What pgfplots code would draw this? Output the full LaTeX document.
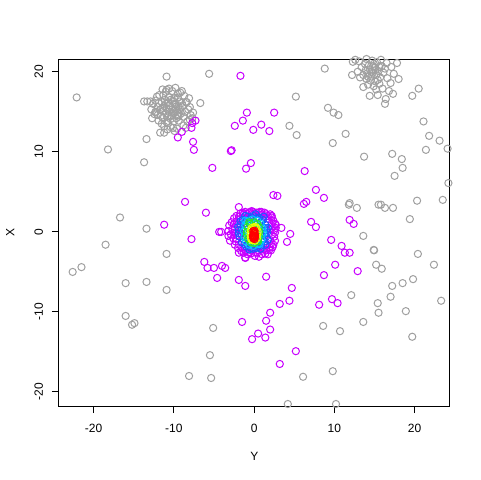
\documentclass[border=0pt]{standalone}
\usepackage{fontspec}
\setmainfont{Liberation Sans}
\usepackage{pgfplots}
\pgfplotsset{compat=1.18}
\definecolor{pgray}{RGB}{160,160,160}
\definecolor{ppurple}{RGB}{200,0,255}
\definecolor{pblue}{RGB}{30,90,255}
\definecolor{pcyan}{RGB}{0,200,255}
\definecolor{pgreen}{RGB}{40,230,40}
\definecolor{pyellow}{RGB}{235,255,0}
\definecolor{pred}{RGB}{255,0,0}
\pgfplotsset{pts/.style={only marks, mark=o, mark size=2.7pt, color=#1, mark options={line width=0.75pt, draw=#1}}}
\begin{document}
\begin{tikzpicture}
\path (0,0) rectangle (360pt,360pt);
\begin{axis}[
  at={(44.25pt,55.5pt)}, anchor=south west,
  scale only axis, width=293.25pt, height=260.25pt,
  xmin=-24.3, xmax=24.4, ymin=-21.75, ymax=21.6,
  xtick={-20,-10,0,10,20}, ytick={-20,-10,0,10,20},
  tick align=outside, xtick pos=left, ytick pos=left,
  major tick length=5.4pt,
  tick style={black, line width=0.75pt},
  axis line style={black, line width=0.75pt},
  ticklabel style={font=\fontsize{9}{10}\selectfont},
  /pgf/number format/assume math mode=true,
  yticklabel style={rotate=90, anchor=south},
  xticklabel shift=4.5pt, yticklabel shift=3pt,
  xlabel={Y}, ylabel={X},
  label style={font=\fontsize{9}{10}\selectfont},
  xlabel style={at={(axis description cs:0.5,-0.144)}, anchor=center},
  ylabel style={at={(axis description cs:-0.125,0.5)}, anchor=center},
]
% scattered gray points
\addplot[pts=pgray] coordinates {
(-22.1,16.8) (-10.9,19.4) (-5.6,19.75) (-6.7,16.1) (-13.7,16.3) (-12.3,15.0)
(-11.2,12.4) (-13.4,11.6) (-18.2,10.3) (-13.7,8.7) (-16.7,1.8) (-13.4,0.4)
(-18.5,-1.6) (-10.9,-2.75) (-22.6,-5.0) (-21.5,-4.4) (-16.0,-6.4) (-13.4,-6.25)
(-10.9,-7.25) (-16.0,-10.5) (-15.2,-11.6) (-14.9,-11.4) (-5.1,-12.0) (-5.5,-15.4)
(-5.35,-18.25) (-8.1,-18.0) (4.2,-21.5) (10.2,-21.5) (17.2,-21.9) (6.1,-18.1)
(9.8,-17.4) (8.6,-11.75) (10.7,-12.4) (13.6,-11.25) (19.7,-13.1) (15.5,-10.1)
(18.9,-9.9) (15.4,-8.9) (17.0,-8.1) (23.3,-8.6) (12.1,-7.9) (17.2,-6.75)
(18.5,-6.4) (19.8,-5.9) (15.2,-4.1) (15.9,-4.6) (22.4,-4.1) (14.9,-2.25)
(14.95,-2.3) (20.4,-2.75) (13.6,-0.5) (19.4,1.6) (11.9,3.6) (11.8,3.4)
(12.8,3.0) (15.5,3.4) (15.8,3.4) (16.3,3.0) (17.3,3.0) (20.3,3.9)
(23.5,4.0) (24.2,6.1) (17.5,7.0) (18.5,8.0) (18.4,9.1) (17.2,9.75)
(13.7,9.4) (21.4,10.25) (24.1,10.4) (23.1,11.4) (21.8,12.0) (21.1,13.8)
(9.8,11.1) (11.4,12.25) (4.4,13.25) (5.3,12.1) (5.2,16.9) (9.2,15.5)
(9.9,14.9) (10.5,14.6) (12.2,19.6) (20.5,17.9) (19.7,17.0) (8.8,20.4)
};
% top-left gray cluster
\addplot[pts=pgray] coordinates {
(-10.2,15.3) (-9.8,15.6) (-10.6,15.0) (-10.0,14.8) (-10.5,15.8) (-9.6,15.1)
(-10.9,15.4) (-9.9,16.0) (-10.3,14.5) (-9.4,15.7) (-11.0,14.8) (-10.7,16.2)
(-9.5,14.6) (-10.1,16.4) (-11.2,15.7) (-9.2,15.3) (-10.4,14.1) (-9.7,14.2)
(-10.8,14.4) (-11.3,15.1) (-9.1,14.8) (-9.9,16.7) (-10.6,16.8) (-11.5,16.2)
(-9.3,16.3) (-8.9,15.8) (-11.6,14.5) (-10.0,13.8) (-9.4,13.9) (-10.9,13.7)
(-11.1,16.5) (-8.8,14.4) (-12.0,15.6) (-12.3,16.4) (-11.8,17.1) (-11.0,17.5)
(-10.2,17.6) (-9.5,17.3) (-8.7,17.0) (-8.4,16.2) (-8.2,15.3) (-7.9,14.6)
(-8.3,13.8) (-8.8,13.3) (-9.6,12.9) (-10.4,13.1) (-11.2,13.2) (-11.9,13.9)
(-12.4,14.7) (-12.8,15.3) (-12.6,16.0) (-9.0,17.6) (-12.1,16.9) (-11.5,13.5)
(-8.5,13.0) (-9.9,12.6) (-12.9,16.3) (-13.3,16.3) (-12.2,15.0) (-11.4,17.8)
(-10.6,17.9) (-9.8,18.0) (-8.0,15.6) (-7.7,14.2) (-8.1,16.7) (-12.7,14.2)
(-11.7,12.4) (-10.8,12.8) (-11.3,17.1) (-7.6,14.9) (-8.0,14.0) (-10.1,13.0)
(-10.7,13.6) (-11.4,14.25) (-11.7,15.25) (-10.9,17.75) (-9.2,17.4) (-8.5,16.25)
(-9.7,15.4) (-10.4,16.5) (-11.0,16.0) (-9.0,16.1) (-9.4,14.4) (-10.6,14.5)
(-11.4,15.5) (-10.0,15.1) (-9.5,16.8) (-11.9,16.1) (-8.6,15.0) (-12.0,14.6)
};
% top-right gray cluster
\addplot[pts=pgray] coordinates {
(14.8,19.9) (14.4,20.3) (15.2,19.6) (14.6,19.4) (15.0,20.5) (14.1,19.8)
(15.5,20.1) (14.9,21.0) (14.3,20.8) (15.7,19.3) (13.9,20.2) (15.3,21.2)
(14.5,18.9) (15.9,20.7) (14.0,19.1) (15.1,18.8) (13.6,19.6) (16.1,19.9)
(14.7,21.4) (13.8,21.0) (16.3,20.4) (15.6,18.5) (14.2,18.4) (13.4,20.6)
(16.5,21.1) (15.8,21.5) (13.2,19.3) (16.6,19.2) (14.9,18.2) (13.1,21.3)
(12.3,21.25) (12.6,21.5) (14.4,17.0) (15.4,17.1) (16.3,16.0) (16.4,16.6)
(16.8,17.6) (17.3,17.25) (17.8,21.1) (18.0,19.1) (17.4,19.75) (15.2,17.8)
(16.0,17.9) (13.6,18.1) (17.0,18.6) (17.1,20.6) (12.9,20.0) (14.0,21.6)
(14.6,20.0) (15.1,20.2) (14.2,19.4) (15.4,19.0) (14.8,20.7) (15.6,20.6)
};
% scattered purple points
\addplot[pts=ppurple] coordinates {
(-1.7,19.5) (-0.9,14.9) (2.5,14.9) (-1.4,13.9) (-2.4,13.25) (0.9,13.4)
(-0.1,12.75) (1.9,12.6) (-7.6,11.25) (-7.5,10.25) (-2.9,10.1) (-2.8,10.2)
(-5.2,8.0) (-1.0,7.9) (-0.4,8.6) (6.3,7.6) (2.4,4.6) (2.9,4.5)
(7.7,5.25) (8.7,4.25) (6.2,3.5) (6.5,3.75) (-1.9,3.1) (-6.0,2.4)
(-8.6,3.75) (-11.2,0.9) (-9.5,11.8) (-9.0,12.5) (-7.3,13.9) (-7.7,13.6)
(-7.8,13.0) (7.1,1.25) (7.7,0.6) (11.9,1.5) (12.4,1.0) (3.4,0.5)
(4.5,-0.25) (4.1,-1.25) (9.6,-1.0) (10.9,-1.75) (11.3,-2.6) (11.9,-2.6)
(10.1,-4.1) (12.9,-4.9) (8.7,-5.4) (4.7,-7.0) (4.4,-8.6) (3.2,-9.0)
(9.7,-8.4) (10.4,-8.9) (8.1,-9.1) (-7.8,-0.9) (-4.35,0.0) (-4.1,0.0)
(-6.2,-3.75) (-5.8,-4.5) (-5.0,-4.5) (-4.0,-4.25) (-3.6,-4.5) (-4.6,-5.75)
(-1.1,-3.25) (-1.9,-6.0) (-1.1,-6.75) (1.5,-5.6) (-1.5,-11.25) (-0.25,-13.4)
(0.5,-12.7) (1.4,-13.2) (2.0,-12.2) (1.5,-11.1) (2.0,-10.1) (5.2,-14.9)
(3.2,-16.5)
};
% central cluster: purple ring
\addplot[pts=ppurple] coordinates {
(-3.1,0.8) (-2.8,1.2) (-2.5,1.7) (-2.2,2.0) (-1.7,2.3) (-1.4,2.4) (-1.3,2.2)
(-0.9,2.3) (-0.5,2.5) (0.3,2.4) (0.6,2.4) (1.0,2.2) (1.5,2.2) (2.2,2.0)
(2.4,1.4) (2.6,1.0) (2.7,0.5) (2.6,-0.1) (2.5,-0.6) (2.6,-1.1) (2.4,-1.6)
(2.3,-1.9) (1.9,-2.2) (1.4,-2.7) (1.0,-2.8) (0.5,-2.3) (0.2,-2.6) (-0.3,-2.3)
(-0.6,-2.5) (-1.0,-2.3) (-1.5,-2.0) (-1.9,-1.6) (-2.3,-1.2) (-2.6,-0.8) (-3.0,-1.1)
(-2.9,-0.3) (-2.7,0.3) (-3.2,0.1) (-2.0,0.9) (-2.1,-0.4) (-1.8,1.6) (1.8,1.6)
(2.0,-1.0) (2.1,0.3) (-1.2,-1.9) (0.9,-2.0) (1.6,-1.7) (-2.4,-1.6) (2.5,0.2)
(-0.1,2.5) (1.3,2.4) (-0.8,-2.8) (0.1,-3.0) (1.2,-2.2) (-1.6,-2.4) (2.1,-2.3)
(-2.2,1.3) (2.2,1.8) (-0.6,2.4) (0.7,2.5) (2.7,0.9) (-3.2,-0.5) (1.7,-2.8)
(-1.9,-2.6) (-1.1,-3.2) (0.6,-3.1)
(-2.4,0.6) (-2.3,-0.2) (-2.5,1.0) (-1.9,1.9) (-1.1,2.5) (0.0,2.3) (0.9,2.5)
(1.7,2.0) (2.2,1.1) (2.3,0.7) (2.2,-0.4) (2.1,-1.5) (1.5,-2.3) (0.4,-2.6)
(-0.4,-2.7) (-1.3,-2.6) (-2.0,-2.0) (-2.5,-0.1) (-2.2,-0.9) (1.9,-1.9)
(-0.3,2.6) (2.0,2.2)
};
% blue
\addplot[pts=pblue] coordinates {
(-1.9,0.2) (-1.7,0.9) (-1.4,1.5) (-0.8,1.9) (-0.1,2.0) (0.6,1.8) (1.1,1.5)
(1.4,0.9) (1.5,0.2) (1.5,-0.6) (1.3,-1.2) (0.9,-1.7) (0.3,-2.0) (-0.4,-2.0)
(-1.0,-1.8) (-1.5,-1.3) (-1.8,-0.6) (-1.5,0.4) (1.2,1.9) (-1.2,-1.5) (1.4,-1.6)
(-0.3,1.8) (0.2,-1.8) (-1.7,1.3) (1.6,-0.1)
(-1.6,-0.2) (-1.3,1.0) (-0.5,1.6) (0.3,1.7) (0.9,1.3) (1.3,0.5) (1.3,-0.2)
(1.1,-0.9) (0.6,-1.6) (-0.1,-2.1) (-0.8,-1.6) (-1.3,-0.9) (-1.9,-0.2) (-2.0,0.6)
(-1.1,2.0) (0.2,2.2) (1.7,0.5) (1.7,-1.0) (-0.6,-2.2) (0.8,-2.1)
};
% cyan
\addplot[pts=pcyan] coordinates {
(-1.25,0.1) (-1.1,0.8) (-0.8,1.3) (-0.2,1.55) (0.4,1.4) (0.8,1.0) (1.0,0.4)
(1.0,-0.3) (0.9,-1.0) (0.5,-1.5) (-0.1,-1.75) (-0.6,-1.6) (-1.0,-1.2) (-1.2,-0.6)
(0.7,-1.5) (-1.1,1.4) (-0.9,-0.1) (1.1,0.0) (0.2,1.1) (-0.3,-1.4)
};
% green
\addplot[pts=pgreen] coordinates {
(-0.9,0.0) (-0.8,0.6) (-0.5,1.0) (0.0,1.2) (0.4,1.0) (0.6,0.6) (0.65,0.0)
(0.6,-0.6) (0.4,-1.1) (0.0,-1.4) (-0.4,-1.3) (-0.7,-0.9) (-0.9,-0.4) (0.5,-1.2)
(-0.6,1.2)
};
% yellow
\addplot[pts=pyellow] coordinates {
(-0.4,0.2) (-0.3,0.5) (0.0,0.6) (0.3,0.4) (0.45,0.0) (0.4,-0.4) (0.35,-0.8)
(0.1,-1.1) (-0.2,-1.05) (-0.4,-0.7) (-0.45,-0.3) (0.2,0.6) (-0.35,-0.9)
};
% red
\addplot[pts=pred] coordinates {
(-0.1,0.1) (0.05,0.0) (-0.05,-0.2) (0.1,-0.3) (-0.1,-0.4) (0.0,-0.6) (0.1,-0.7)
(-0.1,-0.8) (0.05,-0.9) (0.0,-0.1) (-0.15,-0.5) (0.1,-0.5) (0.05,0.15) (-0.05,-0.7)
};
\end{axis}
\end{tikzpicture}
\end{document}
